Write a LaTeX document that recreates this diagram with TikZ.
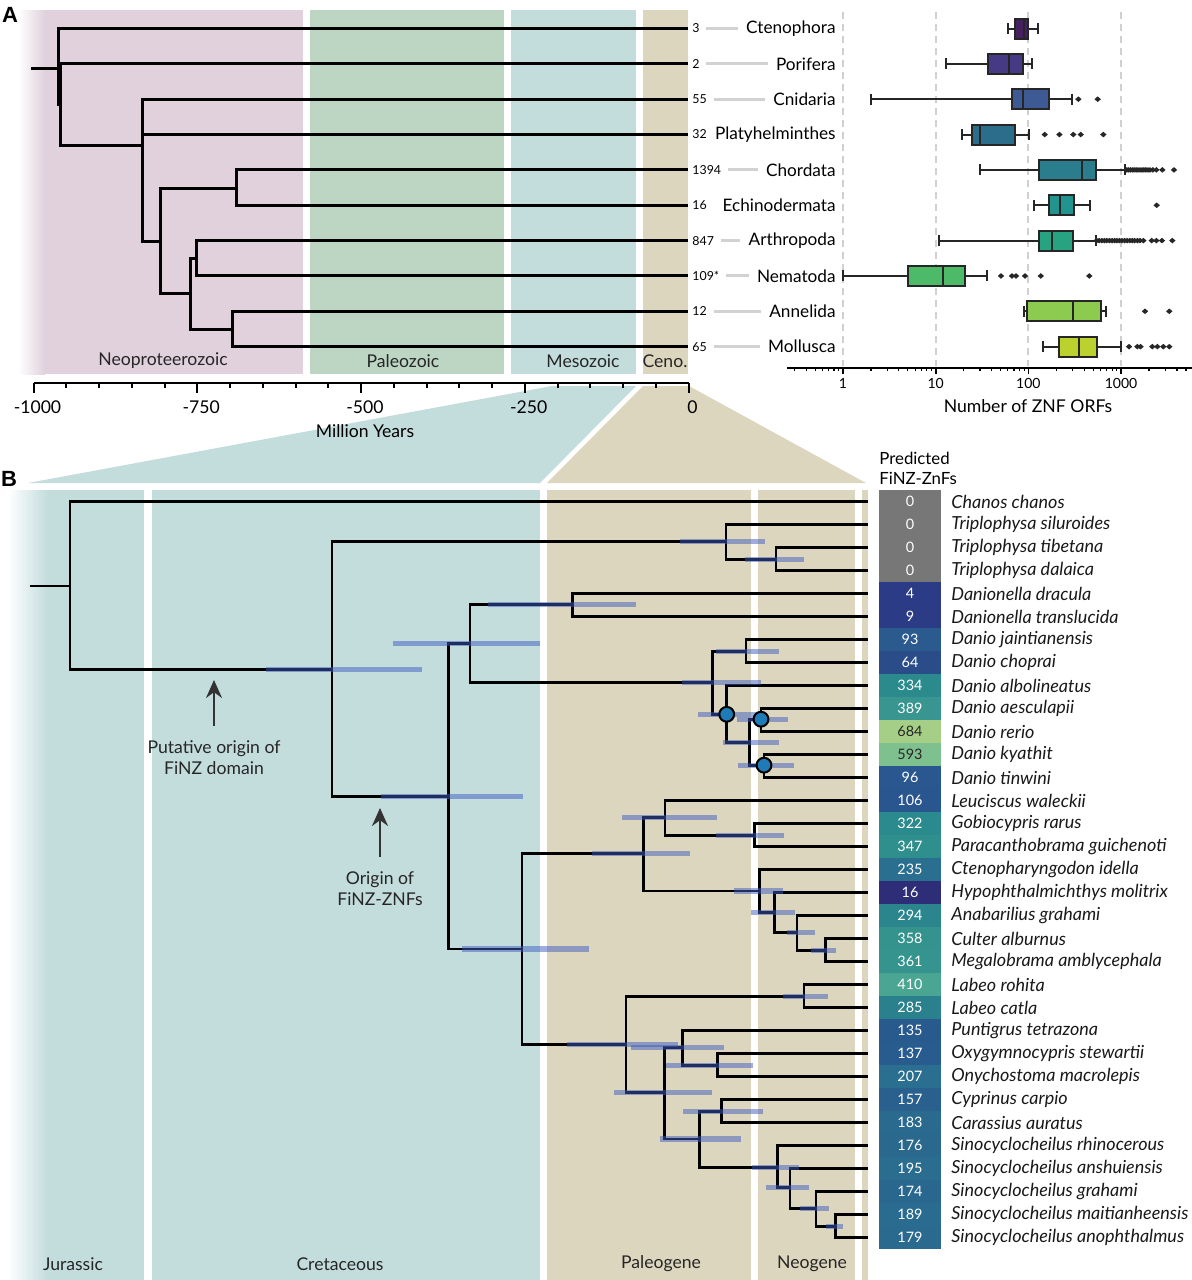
\documentclass[tikz,border=0pt]{standalone}
\usepackage{fontspec}
\setmainfont{Lato}
\newfontfamily\panelfont{Liberation Sans}
\usetikzlibrary{arrows.meta}

\definecolor{neoc}{HTML}{E0D1DC}
\definecolor{paleoc}{HTML}{BDD5C3}
\definecolor{mesoc}{HTML}{C3DCDC}
\definecolor{cenoc}{HTML}{DDD6BF}
\definecolor{hpdc}{HTML}{3F5BBF}
\definecolor{tipgray}{HTML}{D2D2D2}
\definecolor{gridc}{HTML}{D0D0D0}
\definecolor{boxline}{HTML}{262626}
\definecolor{finzc}{HTML}{1F7BB6}
\definecolor{bx0}{HTML}{45215F}
\definecolor{bx1}{HTML}{473A85}
\definecolor{bx2}{HTML}{3D5A94}
\definecolor{bx3}{HTML}{2C6D8C}
\definecolor{bx4}{HTML}{2A7D8C}
\definecolor{bx5}{HTML}{219490}
\definecolor{bx6}{HTML}{27A382}
\definecolor{bx7}{HTML}{4DBA6A}
\definecolor{bx8}{HTML}{8CCB50}
\definecolor{bx9}{HTML}{BBD22E}

% box plot on the log axis: row, low whisker, q1, median, q3, high whisker, fill
\newcommand{\znfbox}[7]{%
  \pgfmathsetmacro\zby{28.5+35.35*#1}%
  \pgfmathsetmacro\zxa{843+92.7*log10(#2)}%
  \pgfmathsetmacro\zxb{843+92.7*log10(#3)}%
  \pgfmathsetmacro\zxm{843+92.7*log10(#4)}%
  \pgfmathsetmacro\zxc{843+92.7*log10(#5)}%
  \pgfmathsetmacro\zxd{843+92.7*log10(#6)}%
  \draw[whisk] (\zxa,\zby) -- (\zxb,\zby) (\zxc,\zby) -- (\zxd,\zby)
    (\zxa,\zby-5.5) -- (\zxa,\zby+5.5) (\zxd,\zby-5.5) -- (\zxd,\zby+5.5);
  \filldraw[whisk,fill=#7] (\zxb,\zby-10) rectangle (\zxc,\zby+10);
  \draw[whisk] (\zxm,\zby-10) -- (\zxm,\zby+10);
}
% outliers of one row
\newcommand{\zout}[2]{%
  \foreach \v in {#2}{%
    \pgfmathsetmacro\zox{843+92.7*log10(\v)}%
    \pgfmathsetmacro\zoy{28.5+35.35*#1}%
    \fill[boxline] (\zox,\zoy) ++(-3.2,0) -- ++(3.2,-2.8) -- ++(3.2,2.8) -- ++(-3.2,2.8) -- cycle;
  }%
}

\begin{document}
\begin{tikzpicture}[x=0.5pt,y=-0.5pt,
  branch/.style={line width=1.5pt},
  branchB/.style={line width=1.3pt},
  hpd/.style={hpdc,line width=2.6pt,opacity=.5},
  eralab/.style={font=\fontsize{8.8}{10}\selectfont,text=black!85},
  taxon/.style={anchor=east,inner sep=0pt,font=\fontsize{8.6}{10}\selectfont},
  cnt/.style={anchor=west,inner sep=0pt,font=\fontsize{6.2}{7}\selectfont},
  tipline/.style={tipgray,line width=1.5pt},
  whisk/.style={boxline,line width=1pt},
  zgrid/.style={gridc,line width=1pt,dash pattern=on 3.5pt off 2.5pt},
  axlab/.style={font=\fontsize{8.8}{10}\selectfont},
  boxax/.style={font=\fontsize{7}{8}\selectfont},
  cell/.style={minimum width=31pt,minimum height=11.5pt,inner sep=0pt,font=\fontsize{7.2}{8}\selectfont},
  species/.style={anchor=west,inner sep=0pt,font=\fontsize{9}{10}\selectfont\itshape,text=black!90},
  finz/.style={draw=black,fill=finzc,line width=1pt},
  note/.style={align=center,font=\fontsize{8.8}{10.5}\selectfont,text=black!85},
  pointer/.style={-{Stealth[length=9pt,width=8pt]},line width=1pt,black!80},
  panel/.style={font=\panelfont\bfseries\fontsize{11}{12}\selectfont}]

\fill[white] (0,0) rectangle (1192,1280);
\useasboundingbox (0,0) rectangle (1192,1280);

% eras, panel A
\shade[left color=white,right color=neoc] (18,10) rectangle (45,374);
\fill[neoc] (45,10) rectangle (303,374);
\fill[paleoc] (310,10) rectangle (504,374);
\fill[mesoc] (511,10) rectangle (636,374);
\fill[cenoc] (643,10) rectangle (688,374);

% zoom wedges
\fill[mesoc] (552,386) -- (636,386) -- (540,483) -- (28,483) -- cycle;
\fill[cenoc] (643,386) -- (689,386) -- (866,483) -- (547,483) -- cycle;

% eras, panel B
\shade[left color=white,right color=mesoc] (8,490) rectangle (48,1280);
\fill[mesoc] (48,490) rectangle (144,1280);
\fill[mesoc] (152,490) rectangle (540,1280);
\fill[cenoc] (547,490) rectangle (751,1280);
\fill[cenoc] (758,490) rectangle (855,1280);
\fill[cenoc] (862,490) rectangle (868,1280);

\node[eralab] (eNeo) at (163,361) {Neoproteerozoic};
\node[eralab] (ePal) at (403,361) {Paleozoic};
\node[eralab] (eMes) at (583,361) {Mesozoic};
\node[eralab] (eCen) at (665,361) {Ceno.};
\node[eralab] (eJur) at (73,1264) {Jurassic};
\node[eralab] (eCre) at (340,1264) {Cretaceous};
\node[eralab] (ePg) at (661,1264) {Paleogene};
\node[eralab] (eNg) at (812,1264) {Neogene};

% panel A tips
\foreach \i/\num/\name/\ln in {0/3/Ctenophora/1,1/2/Porifera/1,2/55/Cnidaria/1,
    3/32/Platyhelminthes/0,4/1394/Chordata/1,5/16/Echinodermata/0,6/847/Arthropoda/1,
    7/109*/Nematoda/1,8/12/Annelida/1,9/65/Mollusca/1} {
  \coordinate (ta\i) at (688,{28.5+35.35*\i});
  \node[cnt] (na\i) at (692,{28.5+35.35*\i}) {\num};
  \node[taxon] (la\i) at (836,{28.5+35.35*\i}) {\name};
  \ifnum\ln=1 \draw[tipline] ([xshift=3.2pt]na\i.east) -- ([xshift=-4pt]la\i.west); \fi
}

% panel A tree
\coordinate (rootA) at (31,68);
\coordinate (aR) at (58,68);
\coordinate (aP) at (60,104);
\coordinate (aE) at (142,145);
\coordinate (aB) at (160,241);
\coordinate (aD) at (236,188);
\coordinate (aPr) at (190,293);
\coordinate (aEc) at (196,258);
\coordinate (aS) at (232,329);
\draw[branch] (rootA) -- (aR);
\foreach \p/\c in {aR/ta0,aR/aP,aP/ta1,aP/aE,aE/ta2,aE/ta3,aE/aB,aB/aD,aB/aPr,
    aD/ta4,aD/ta5,aPr/aEc,aPr/aS,aEc/ta6,aEc/ta7,aS/ta8,aS/ta9}
  \draw[branch] (\p) |- (\c);

% time axis, panel A
\draw[line width=1.1pt] (33.5,383) -- (688.5,383);
\foreach \t in {0,...,20} \draw[line width=1pt] ({33.5+32.75*\t},383) -- ++(0,5);
\foreach \t/\lab in {0/-1000,5/-750,10/-500,15/-250,20/0} {
  \draw[line width=1pt] ({33.5+32.75*\t},383) -- ++(0,10);
  \node[axlab] (ax\t) at ({37.5+32.75*\t},407) {\lab};
}
\node[axlab] (axt) at (365,431) {Million Years};

% ZNF box plots
\foreach \g in {0,1,2,3} \draw[zgrid] ({843+92.7*\g},12) -- ({843+92.7*\g},366);
\znfbox{0}{60}{72}{90}{98}{126}{bx0}
\znfbox{1}{12.9}{36.4}{61}{87}{109}{bx1}
\znfbox{2}{2}{66.5}{86.8}{168}{293}{bx2}
\znfbox{3}{19}{24.8}{30}{71.7}{101}{bx3}
\znfbox{4}{30}{129}{379}{536}{1102}{bx4}
\znfbox{5}{115}{167}{219}{308}{462}{bx5}
\znfbox{6}{10.9}{130}{180}{303}{532}{bx6}
\znfbox{7}{1}{5}{11.9}{20.7}{36}{bx7}
\znfbox{8}{89.7}{95.8}{305}{602}{687}{bx8}
\znfbox{9}{145}{216}{351}{546}{990}{bx9}
\zout{2}{346,559}
\zout{3}{150,216,305,367,643}
\zout{4}{1150,1200,1260,1320,1380,1450,1520,1600,1680,1760,1850,1950,2050,2200,2400,2785,3720}
\zout{5}{2420}
\zout{6}{545,580,620,660,700,750,800,850,900,960,1020,1090,1160,1240,1320,1400,1500,1600,1740,2138,2400,2760,3567}
\zout{7}{50.6,66.5,73.5,91.9,136,454}
\zout{8}{1811,3310}
\zout{9}{1217,1497,1620,2172,2460,2852,3310}
\draw[line width=1.1pt] (787,368) -- (1192,368);
\foreach \d in {-1,0,1,2,3} \foreach \k in {2,...,9} {
  \pgfmathsetmacro\tx{843+92.7*(\d+log10(\k))}
  \ifdim\tx pt>788pt \ifdim\tx pt<1191pt \draw[line width=.6pt] (\tx,368) -- ++(0,3); \fi\fi
}
\foreach \g/\lab in {0/1,1/10,2/100,3/1000} {
  \draw[line width=.8pt] ({843+92.7*\g},368) -- ++(0,6);
  \node[boxax] (bl\g) at ({843+92.7*\g},383) {\lab};
}
\node[axlab] (bxt) at (1028,406) {Number of ZNF ORFs};

% panel B tips, counts and species
\node[anchor=west,align=left,inner sep=0pt,font=\fontsize{8.4}{10}\selectfont] (hdr) at (879,468) {Predicted\\FiNZ-ZnFs};
\foreach \i/\num/\hex/\tc/\name in {
    0/0/777777/white/Chanos chanos,
    1/0/777777/white/Triplophysa siluroides,
    2/0/777777/white/Triplophysa tibetana,
    3/0/777777/white/Triplophysa dalaica,
    4/4/2B3B85/white/Danionella dracula,
    5/9/2B3B85/white/Danionella translucida,
    6/93/2A5A8E/white/Danio jaintianensis,
    7/64/2A4D8A/white/Danio choprai,
    8/334/2A8A8C/white/Danio albolineatus,
    9/389/38958F/white/Danio aesculapii,
    10/684/A5CF86/black!85/Danio rerio,
    11/593/7FC08F/black!85/Danio kyathit,
    12/96/2A5790/white/Danio tinwini,
    13/106/2A5690/white/Leuciscus waleckii,
    14/322/2B8A8D/white/Gobiocypris rarus,
    15/347/2E8F8D/white/Paracanthobrama guichenoti,
    16/235/2A6F8F/white/Ctenopharyngodon idella,
    17/16/2E2D78/white/Hypophthalmichthys molitrix,
    18/294/2A858D/white/Anabarilius grahami,
    19/358/35938E/white/Culter alburnus,
    20/361/35948E/white/Megalobrama amblycephala,
    21/410/4AA593/white/Labeo rohita,
    22/285/2A818D/white/Labeo catla,
    23/135/295A8E/white/Puntigrus tetrazona,
    24/137/295C8E/white/Oxygymnocypris stewartii,
    25/207/2A6E90/white/Onychostoma macrolepis,
    26/157/29608E/white/Cyprinus carpio,
    27/183/2A6A8F/white/Carassius auratus,
    28/176/2A688E/white/Sinocyclocheilus rhinocerous,
    29/195/2A6D8F/white/Sinocyclocheilus anshuiensis,
    30/174/2A678E/white/Sinocyclocheilus grahami,
    31/189/2A6C8F/white/Sinocyclocheilus maitianheensis,
    32/179/2A6A8E/white/Sinocyclocheilus anophthalmus} {
  \definecolor{cellc}{HTML}{\hex}
  \coordinate (t\i) at (868,{501.7+23*\i});
  \node[cell,fill=cellc,text=\tc] (c\i) at (910,{501.7+23*\i}) {\num};
  \node[species] (s\i) at (951,{501.7+23*\i}) {\name};
}

% panel B tree
\coordinate (rootB) at (30,586);
\coordinate (bR) at (70,586);
\coordinate (bA) at (332,669.3);
\coordinate (bT) at (726,541.7);
\coordinate (bT2) at (776,559.2);
\coordinate (bC) at (448.5,796.7);
\coordinate (bD) at (470,643.3);
\coordinate (bDn) at (572.7,604.7);
\coordinate (bDa) at (712.7,682.3);
\coordinate (bDj) at (746,651.2);
\coordinate (bDb) at (726.7,714.3);
\coordinate (bDc) at (749.3,742.7);
\coordinate (bDr) at (761,719.2);
\coordinate (bDk) at (764,765.2);
\coordinate (bL) at (522,949);
\coordinate (bLa) at (643.3,853.3);
\coordinate (bLe) at (665,817.7);
\coordinate (bLg) at (754.3,835.2);
\coordinate (bLh) at (759.3,891);
\coordinate (bLi) at (774.3,912.3);
\coordinate (bLj) at (797,932.7);
\coordinate (bLk) at (825.7,950.2);
\coordinate (bLb) at (626,1044.3);
\coordinate (bLl) at (804,996.2);
\coordinate (bLm) at (664.3,1092.7);
\coordinate (bLn) at (682.3,1047.5);
\coordinate (bLp) at (717.7,1065.2);
\coordinate (bLo) at (699.3,1139);
\coordinate (bLq) at (721.7,1111.2);
\coordinate (bLr) at (777.7,1167.3);
\coordinate (bLs) at (790,1187.7);
\coordinate (bLt) at (816,1208.3);
\coordinate (bLu) at (835.7,1226.2);
\draw[branchB] (rootB) -- (bR);
\foreach \p/\c in {bR/t0,bR/bA,bA/bT,bA/bC,bT/t1,bT/bT2,bT2/t2,bT2/t3,
    bC/bD,bC/bL,bD/bDn,bD/bDa,bDn/t4,bDn/t5,
    bDa/bDj,bDa/bDb,bDj/t6,bDj/t7,bDb/t8,bDb/bDc,bDc/bDr,bDc/bDk,
    bDr/t9,bDr/t10,bDk/t11,bDk/t12,
    bL/bLa,bL/bLb,bLa/bLe,bLa/bLh,bLe/t13,bLe/bLg,bLg/t14,bLg/t15,
    bLh/t16,bLh/bLi,bLi/t17,bLi/bLj,bLj/t18,bLj/bLk,bLk/t19,bLk/t20,
    bLb/bLl,bLb/bLm,bLl/t21,bLl/t22,
    bLm/bLn,bLm/bLo,bLn/t23,bLn/bLp,bLp/t24,bLp/t25,
    bLo/bLq,bLo/bLr,bLq/t26,bLq/t27,
    bLr/t28,bLr/bLs,bLs/t29,bLs/bLt,bLt/t30,bLt/bLu,bLu/t31,bLu/t32}
  \draw[branchB] (\p) |- (\c);

% node age intervals
\foreach \n/\l/\r in {bA/266/422,bT/680/765,bT2/745/804,bC/381/523,bD/393/540,
    bDn/488/636,bDa/682/761,bDj/716/779,bDb/698/757,bDc/723/779,bDr/737/788,
    bDk/738/794,bL/462/589,bLa/592/690,bLe/622/717,bLg/716/784,bLh/734/783,
    bLi/751/795,bLj/787/815,bLk/811/836,bLb/567/678,bLl/783/828,bLm/614/712,
    bLn/631/724,bLp/666/753,bLo/660/741,bLq/683/763,bLr/752/799,bLs/766/809,
    bLt/800/829,bLu/826/843}
  \draw[hpd] (\l,0 |- \n) -- (\r,0 |- \n);

\filldraw[finz] (bDb) circle[radius=3.7pt];
\filldraw[finz] (bDr) circle[radius=3.7pt];
\filldraw[finz] (bDk) circle[radius=3.7pt];

% origins
\node[note] (putative) at (214,758) {Putative origin of\\FiNZ domain};
\coordinate (putTip) at (214,680);
\draw[pointer] ([yshift=4pt]putative.north) -- (putTip);
\node[note] (origin) at (380,889) {Origin of\\FiNZ-ZNFs};
\coordinate (oriTip) at (380,808);
\draw[pointer] ([yshift=4pt]origin.north) -- (oriTip);

\node[panel] (pA) at (10,15) {A};
\node[panel] (pB) at (9,479) {B};
\end{tikzpicture}
\end{document}
